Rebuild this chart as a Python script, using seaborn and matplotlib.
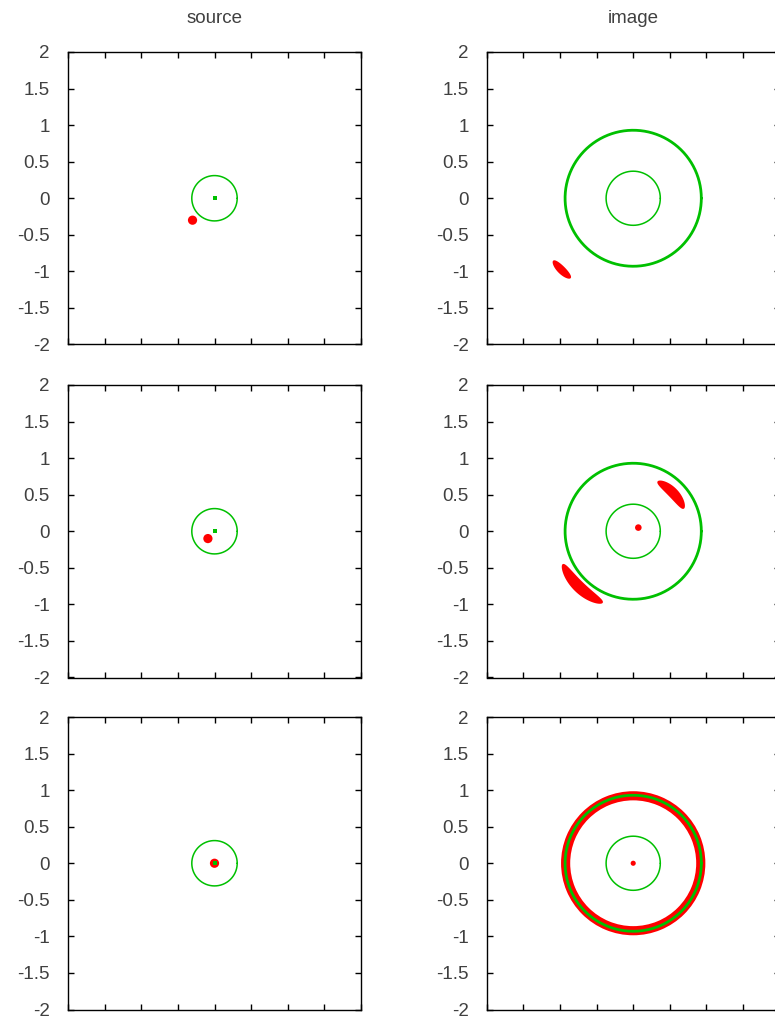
import numpy as np
import matplotlib
matplotlib.use("Agg")
import matplotlib.pyplot as plt
from matplotlib.patches import Circle, Wedge
import seaborn as sns

sns.set_theme(style="white")
plt.rcParams["font.family"] = ["Liberation Sans", "DejaVu Sans"]

# Shared axis extent and ticks
axis_limits = [-2.0, 2.0]
tick_values = [-2, -1.5, -1, -0.5, 0, 0.5, 1, 1.5, 2]
tick_labels = ["-2", "-1.5", "-1", "-0.5", "0", "0.5", "1", "1.5", "2"]
column_titles = ["source", "image"]

# Source plane: radial caustic, central (tangential) caustic point, source discs
caustic_radius = 0.31
source_x = [-0.30, -0.09, 0.00]
source_y = [-0.30, -0.10, 0.00]
source_radius = 0.063

# Image plane: critical curves
tangential_critical_radius = 0.93
radial_critical_radius = 0.37

# Image plane arcs per row: (mid radius, start angle [deg], end angle [deg], width)
arc_rows = [
    [(1.385, 218.0, 232.0, 0.11)],
    [(1.06, 205.0, 247.0, 0.16), (0.755, 24.0, 64.0, 0.14)],
    [],
]
# Central images per row: (x, y, radius)
central_rows = [
    [],
    [(0.07, 0.05, 0.045)],
    [(0.0, 0.0, 0.035)],
]
# Einstein ring per row: (inner radius, outer radius)
ring_rows = [None, None, (0.86, 0.985)]

RED = "#ff0000"
GREEN = "#00c000"
LABEL_COLOR = "#404040"

fig = plt.figure(figsize=(7.75, 10.23), dpi=100)
W, H = 775.0, 1023.0

col_left = [68.0, 486.7]
row_top = [52.0, 385.0, 717.0]
panel_w, panel_h = 293.0, 292.5

ring_theta = np.linspace(0.0, 2.0 * np.pi, 721)


def circle_line(ax, radius, lw):
    sns.lineplot(x=radius * np.cos(ring_theta), y=radius * np.sin(ring_theta),
                 sort=False, estimator=None, color=GREEN, linewidth=lw, ax=ax)


def style_axes(ax):
    ax.set_xlim(axis_limits)
    ax.set_ylim(axis_limits)
    ax.set_xticks(tick_values)
    ax.set_yticks(tick_values)
    ax.set_yticklabels(tick_labels)
    ax.tick_params(direction="in", length=4.5, width=1.0, color="black",
                   top=True, right=True, bottom=True, left=True,
                   labelbottom=False, labelleft=True, pad=13,
                   labelsize=13.5, labelcolor=LABEL_COLOR)
    for sp in ax.spines.values():
        sp.set_color("black")
        sp.set_linewidth(1.0)
    ax.set_xlabel("")
    ax.set_ylabel("")
    ax.set_facecolor("white")


for r in range(3):
    for c in range(2):
        ax = fig.add_axes([col_left[c] / W, 1 - (row_top[r] + panel_h) / H,
                           panel_w / W, panel_h / H])
        if c == 0:
            # source disc, then caustics on top
            ax.add_patch(Circle((source_x[r], source_y[r]), source_radius,
                                color=RED, lw=0, zorder=2))
            circle_line(ax, caustic_radius, 1.1)
            sns.scatterplot(x=[0.0], y=[0.0], marker="s", s=7, color=GREEN,
                            linewidth=0, ax=ax, zorder=4)
        else:
            if ring_rows[r] is not None:
                r_in, r_out = ring_rows[r]
                ax.add_patch(Wedge((0, 0), r_out, 0, 360, width=r_out - r_in,
                                   color=RED, lw=0, zorder=2))
            for (rm, a0, a1, w) in arc_rows[r]:
                s = np.linspace(-1.0, 1.0, 201)
                th = np.deg2rad((a0 + a1) / 2 + s * (a1 - a0) / 2)
                hw = w / 2 * np.sqrt(np.clip(1 - s ** 2, 0, None))
                ro, ri = rm + hw, rm - hw
                xs = np.concatenate([ro * np.cos(th), (ri * np.cos(th))[::-1]])
                ys = np.concatenate([ro * np.sin(th), (ri * np.sin(th))[::-1]])
                ax.fill(xs, ys, color=RED, lw=0, zorder=2)
            for (cx, cy, cr) in central_rows[r]:
                ax.add_patch(Circle((cx, cy), cr, color=RED, lw=0, zorder=5))
            circle_line(ax, tangential_critical_radius, 2.0)
            circle_line(ax, radial_critical_radius, 1.1)
        style_axes(ax)
        if r == 0:
            ax.set_title(column_titles[c], fontsize=13.5, color=LABEL_COLOR, pad=21)

fig.savefig("out.png", dpi=100, facecolor="white")
